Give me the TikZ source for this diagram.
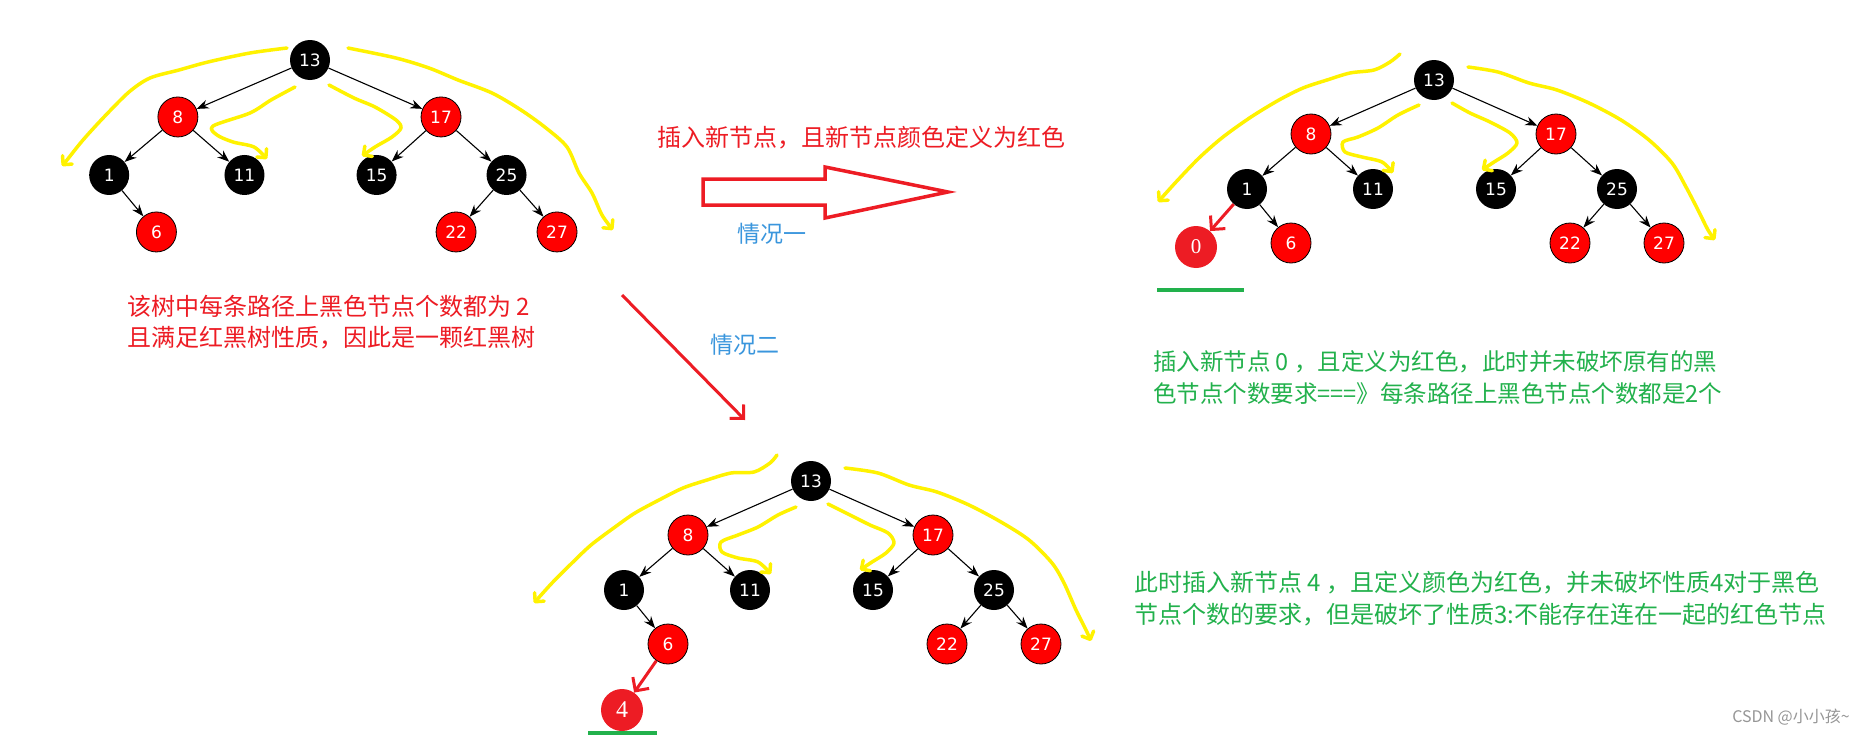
\documentclass[tikz,border=0pt]{standalone}
\usepackage{fontspec}
\setmainfont{DejaVu Sans}
\newfontfamily\cjk{Noto Sans CJK SC}
\newfontfamily\numserif{Liberation Serif}
\usetikzlibrary{arrows.meta}
\definecolor{rbred}{RGB}{255,0,0}
\definecolor{inkred}{RGB}{237,28,36}
\definecolor{hiyellow}{RGB}{255,242,0}
\definecolor{notegreen}{RGB}{34,177,76}
\definecolor{caseblue}{RGB}{58,150,221}
\definecolor{wmgray}{RGB}{150,150,150}

\tikzset{
  blk/.style={circle, fill=black, text=white, minimum size=40pt, inner sep=0pt, font=\fontsize{17}{17}\selectfont},
  rd/.style={blk, fill=rbred, draw=black, line width=0.8pt},
  newnd/.style={circle, fill=inkred, text=white, minimum size=42pt, inner sep=0pt, font=\numserif\fontsize{24}{24}\selectfont},
  tedge/.style={-{Stealth[length=12pt, width=9pt]}, line width=1.1pt},
  yhook/.style={hiyellow, line width=3.5pt, line cap=round, line join=round, -{Straight Barb[angle=90:9pt, round]}},
  rhook/.style={inkred, line width=3pt, -{Straight Barb[angle=90:14pt]}},
  bigarrow/.style={draw=inkred, line width=3.5pt},
  uline/.style={notegreen, line width=4.5pt},
  rtext/.style={text=inkred, align=left, inner sep=0pt, font=\cjk\fontsize{24}{31}\selectfont},
  gtext/.style={text=notegreen, align=left, inner sep=0pt, font=\cjk\fontsize{23.5}{32}\selectfont},
  btext/.style={text=caseblue, inner sep=0pt, font=\cjk\fontsize{23}{23}\selectfont},
  wm/.style={text=wmgray, inner sep=0pt, font=\cjk\fontsize{16}{16}\selectfont}
}

% one red-black tree: #1 name prefix, #2 root position, #3 extra scope options
\newcommand{\rbtree}[3]{%
  \begin{scope}[shift={#2}, #3]
    \node[blk] (#1-13) at (0,0) {13};
    \node[rd]  (#1-8)  at (-123,54) {8};
    \node[rd]  (#1-17) at (122,54) {17};
    \node[blk] (#1-1)  at (-187,109) {1};
    \node[blk] (#1-11) at (-61,109) {11};
    \node[blk] (#1-15) at (62,109) {15};
    \node[blk] (#1-25) at (183,109) {25};
    \node[rd]  (#1-6)  at (-143,163) {6};
    \node[rd]  (#1-22) at (136,163) {22};
    \node[rd]  (#1-27) at (230,163) {27};
    \draw[tedge] (#1-13) -- (#1-8);
    \draw[tedge] (#1-13) -- (#1-17);
    \draw[tedge] (#1-8) -- (#1-1);
    \draw[tedge] (#1-8) -- (#1-11);
    \draw[tedge] (#1-17) -- (#1-15);
    \draw[tedge] (#1-17) -- (#1-25);
    \draw[tedge] (#1-1) -- (#1-6);
    \draw[tedge] (#1-25) -- (#1-22);
    \draw[tedge] (#1-25) -- (#1-27);
  \end{scope}}

\begin{document}
\begin{tikzpicture}[x=1pt, y=-1pt]
  \fill[white] (0,0) rectangle (1863,736);
  \useasboundingbox (0,0) rectangle (1863,736);

  % the valid tree
  \rbtree{t1}{(310,60)}{xscale=1.074, yscale=1.055}
  \draw[yhook] plot[smooth] coordinates {(287,48) (250,53) (208,62) (179,70) (150,78) (129,92) (104,117) (83,140) (67,160) (62,166)};
  \draw[yhook] plot[smooth] coordinates {(295,87) (271,100) (250,113) (213,126) (217,135) (233,142) (254,147) (267,159)};
  \draw[yhook] plot[smooth] coordinates {(329,85) (354,98) (375,107) (396,120) (401,128) (392,137) (375,147) (362,156)};
  \draw[yhook] plot[smooth] coordinates {(348,48) (396,58) (429,68) (458,80) (492,93) (521,110) (546,128) (567,147) (579,173) (592,193) (602,215) (613,230)};
  \node[rtext, anchor=west] (note1) at (127,322) {该树中每条路径上黑色节点个数都为 2\\且满足红黑树性质，因此是一颗红黑树};

  % case one
  \node[rtext, anchor=west] (title1) at (657,138) {插入新节点，且新节点颜色定义为红色};
  \draw[bigarrow] (703,179) -- (825,179) -- (825,167) -- (948,192) -- (825,218) -- (825,205) -- (703,205) -- cycle;
  \node[btext] (case1) at (772,234) {情况一};

  \rbtree{t2}{(1434,80)}{}
  \draw[yhook] plot[smooth] coordinates {(1400,54) (1390,62) (1374,70) (1350,73) (1327,80) (1303,88) (1279,100) (1251,117) (1223,137) (1199,158) (1176,182) (1158,202)};
  \draw[yhook] plot[smooth] coordinates {(1419,105) (1398,115) (1378,128) (1358,137) (1343,142) (1345,152) (1362,157) (1382,162) (1393,173)};
  \draw[yhook] plot[smooth] coordinates {(1452,103) (1470,113) (1490,122) (1510,133) (1517,143) (1508,153) (1494,162) (1482,170)};
  \draw[yhook] plot[smooth] coordinates {(1468,67) (1498,72) (1529,83) (1557,90) (1589,103) (1621,120) (1649,140) (1672,163) (1686,187) (1698,210) (1708,230) (1715,240)};
  \node[newnd, font=\numserif\fontsize{21}{21}\selectfont] (new0) at (1196,247) {0};
  \draw[rhook] (t2-1) -- (new0);
  \draw[uline] (1157,290) -- (1244,290);
  \node[gtext, anchor=west] (note2) at (1153,378) {插入新节点 0 ，且定义为红色，此时并未破坏原有的黑\\色节点个数要求===》每条路径上黑色节点个数都是2个};

  % case two
  \coordinate (case2from) at (622,295);
  \coordinate (case2to) at (745,420);
  \draw[rhook] (case2from) -- (case2to);
  \node[btext] (case2) at (745,345) {情况二};

  \rbtree{t3}{(811,481)}{}
  \draw[yhook] plot[smooth] coordinates {(777,455) (770,463) (754,472) (731,473) (707,480) (683,488) (659,500) (635,513) (615,527) (591,545) (572,563) (552,583) (534,603)};
  \draw[yhook] plot[smooth] coordinates {(796,507) (778,515) (758,527) (738,535) (721,542) (722,552) (738,558) (758,562) (771,574)};
  \draw[yhook] plot[smooth] coordinates {(828,504) (850,515) (870,525) (888,533) (894,543) (886,553) (872,562) (860,570)};
  \draw[yhook] plot[smooth] coordinates {(845,468) (878,473) (909,485) (937,492) (969,505) (1001,522) (1029,540) (1052,563) (1064,583) (1076,610) (1086,630) (1091,641)};
  \node[newnd] (new4) at (622,710) {4};
  \draw[rhook] (t3-6) -- (new4);
  \draw[uline] (588,733) -- (657,733);
  \node[gtext, anchor=west, font=\cjk\fontsize{24}{32}\selectfont] (note3) at (1134,599) {此时插入新节点 4 ，且定义颜色为红色，并未破坏性质4对于黑色\\节点个数的要求，但是破坏了性质3:不能存在连在一起的红色节点};

  \node[wm] (credit) at (1791,717) {CSDN @小小孩\textasciitilde};
\end{tikzpicture}
\end{document}
